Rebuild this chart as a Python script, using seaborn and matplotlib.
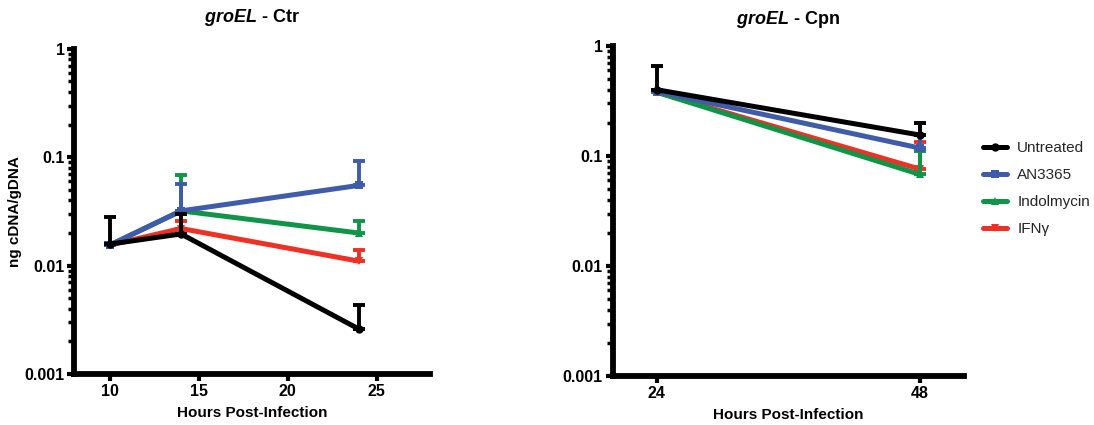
import numpy as np
import pandas as pd
import seaborn as sns
import matplotlib.pyplot as plt
from matplotlib.ticker import LogLocator, FixedLocator, FixedFormatter, NullFormatter

sns.set_style('ticks')
plt.rcParams['font.family'] = ['Liberation Sans', 'DejaVu Sans']
plt.rcParams['mathtext.fontset'] = 'custom'
plt.rcParams['mathtext.it'] = 'Liberation Sans:italic:bold'
plt.rcParams['mathtext.rm'] = 'Liberation Sans:bold'

groups = ['Untreated', 'AN3365', 'Indolmycin', 'IFNγ']
colors = {'Untreated': '#000000', 'AN3365': '#3F5BA9',
          'Indolmycin': '#109447', 'IFNγ': '#EE3124'}
markers = {'Untreated': 'o', 'AN3365': 's', 'Indolmycin': '^', 'IFNγ': 'v'}

# Ctr panel
ctr_hours = [10, 14, 24]
ctr_mean = {
    'Untreated': [0.0158, 0.0196, 0.0026],
    'AN3365': [0.0155, 0.032, 0.055],
    'Indolmycin': [0.0155, 0.032, 0.020],
    'IFNγ': [0.0155, 0.022, 0.011],
}
ctr_upper = {
    'Untreated': [0.028, 0.030, 0.0043],
    'AN3365': [0.0163, 0.057, 0.092],
    'Indolmycin': [0.0163, 0.069, 0.026],
    'IFNγ': [0.0163, 0.026, 0.0138],
}

# Cpn panel
cpn_hours = [24, 48]
cpn_mean = {
    'Untreated': [0.40, 0.155],
    'AN3365': [0.385, 0.118],
    'Indolmycin': [0.38, 0.068],
    'IFNγ': [0.38, 0.076],
}
cpn_upper = {
    'Untreated': [0.66, 0.20],
    'AN3365': [0.40, 0.20],
    'Indolmycin': [0.39, 0.11],
    'IFNγ': [0.39, 0.135],
}


def long_df(hours, mean):
    rows = []
    for g in groups:
        for h, v in zip(hours, mean[g]):
            rows.append({'hours': h, 'value': v, 'group': g})
    return pd.DataFrame(rows)


def draw_panel(ax, hours, mean, upper, title, xlim, xticks, title_pad):
    df = long_df(hours, mean)
    # draw back to front so Untreated sits on top
    for z, g in enumerate(reversed(groups)):
        sub = df[df.group == g]
        sns.lineplot(data=sub, x='hours', y='value', ax=ax, color=colors[g],
                     linewidth=3.6, marker=markers[g], markersize=6,
                     markeredgewidth=0, label=g, zorder=3 + z)
        m = np.array(mean[g])
        err = np.array(upper[g]) - m
        ax.errorbar(hours, m, yerr=[np.zeros_like(m), err], fmt='none',
                    ecolor=colors[g], elinewidth=2.8, capsize=4.5,
                    capthick=2.8, zorder=3 + z)
    ax.set_yscale('log')
    ax.set_ylim(0.001, 1)
    ax.set_xlim(*xlim)
    ax.yaxis.set_major_locator(FixedLocator([0.001, 0.01, 0.1, 1]))
    ax.yaxis.set_major_formatter(FixedFormatter(['0.001', '0.01', '0.1', '1']))
    ax.yaxis.set_minor_locator(LogLocator(base=10, subs=np.arange(2, 10)))
    ax.yaxis.set_minor_formatter(NullFormatter())
    ax.set_xticks(xticks)
    ax.set_xticklabels([str(t) for t in xticks])
    sns.despine(ax=ax)
    for s in ['left', 'bottom']:
        ax.spines[s].set_linewidth(4.2)
        ax.spines[s].set_color('black')
        ax.spines[s].set_capstyle('projecting')
    ax.tick_params(axis='both', which='both', color='black', labelcolor='black')
    ax.tick_params(axis='both', which='major', length=5, width=3,
                   labelsize=11.5, pad=2)
    ax.tick_params(axis='y', which='minor', length=4, width=2.5)
    for lab in ax.get_xticklabels() + ax.get_yticklabels():
        lab.set_fontweight('bold')
    ax.set_title(title, fontsize=13, fontweight='bold', pad=title_pad,
                 color='black')
    ax.set_xlabel('Hours Post-Infection', fontsize=11, fontweight='bold',
                  labelpad=5, color='black')
    ax.set_ylabel('')
    ax.legend_.remove()


fig = plt.figure(figsize=(10.94, 4.25), dpi=100)
ax1 = fig.add_axes([0.068, 0.12, 0.325, 0.765])
ax2 = fig.add_axes([0.560, 0.115, 0.321, 0.777])

draw_panel(ax1, ctr_hours, ctr_mean, ctr_upper, r'$\it{groEL}$ - Ctr',
           (8, 28), [10, 15, 20, 25], 19)
draw_panel(ax2, cpn_hours, cpn_mean, cpn_upper, r'$\it{groEL}$ - Cpn',
           (20, 52), [24, 48], 16)
ax1.set_ylabel('ng cDNA/gDNA', fontsize=11, fontweight='bold', labelpad=2,
               color='black')

handles, labels = ax2.get_legend_handles_labels()
order = [labels.index(g) for g in groups]
leg = ax2.legend([handles[i] for i in order], [labels[i] for i in order],
                 loc='upper left', bbox_to_anchor=(1.037, 0.73), frameon=False,
                 fontsize=11, handlelength=1.6, labelspacing=0.85,
                 handletextpad=0.65, borderaxespad=0)

fig.savefig('out.png', dpi=100)
